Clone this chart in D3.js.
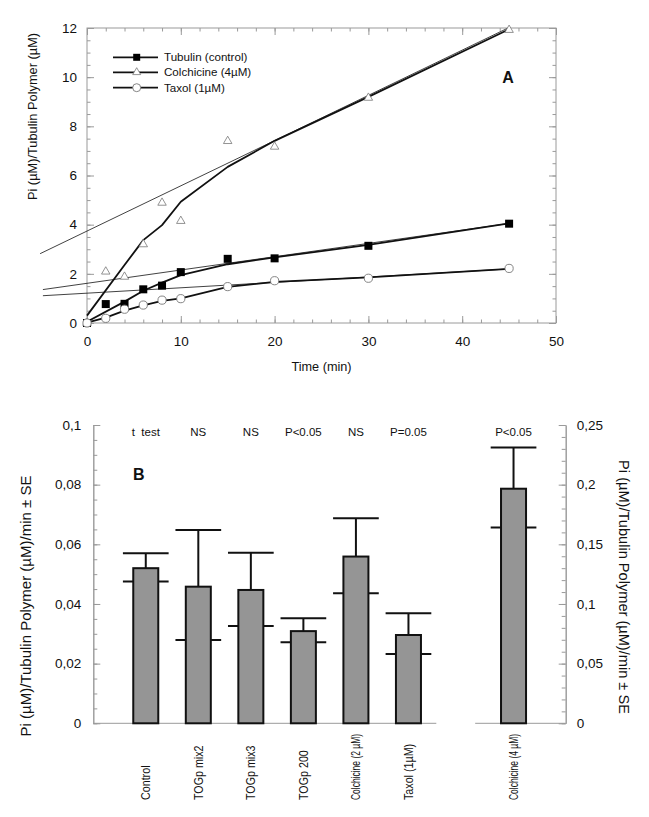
<!DOCTYPE html>
<html><head><meta charset="utf-8">
<script src="https://cdn.jsdelivr.net/npm/d3@7/dist/d3.min.js"></script>
<style>
body{margin:0;background:#fff}
svg{display:block}
text{font-family:"Liberation Sans",Arial,Helvetica,sans-serif;fill:#111}
</style>
</head><body><svg id="c" width="649" height="817"></svg>
<script>
// ---------- Panel A data ----------
const timePoints   = [0, 2, 4, 6, 8, 10, 15, 20, 30, 45];
const tubulinPi    = [0, 0.77, 0.78, 1.37, 1.52, 2.07, 2.61, 2.63, 3.14, 4.04];
const colchicinePi = [0, 2.09, 1.88, 3.20, 4.89, 4.15, 7.40, 7.17, 9.16, 11.92];
const taxolPi      = [0, 0.19, 0.56, 0.73, 0.93, 0.99, 1.48, 1.72, 1.82, 2.22];
// smoothed fit curves
const tubulinFitX    = [0, 4, 6, 8, 10, 15, 20, 30, 45];
const tubulinFitY    = [0.05, 0.87, 1.31, 1.64, 1.95, 2.39, 2.67, 3.18, 4.05];
const colchicineFitX = [0, 4, 6, 8, 10, 15, 20, 30, 45];
const colchicineFitY = [0.30, 2.36, 3.37, 3.98, 4.93, 6.35, 7.41, 9.20, 11.95];
const taxolFitX      = [0, 2, 4, 6, 8, 10, 15, 20, 30, 45];
const taxolFitY      = [0.02, 0.22, 0.50, 0.72, 0.90, 1.00, 1.47, 1.67, 1.86, 2.20];
// linear regression lines (end points)
const tubulinLinX    = [-4.7, 45];
const tubulinLinY    = [1.36, 4.05];
const colchicineLinX = [-5, 45];
const colchicineLinY = [2.82, 12.02];
const taxolLinX      = [-4.7, 45];
const taxolLinY      = [1.11, 2.20];
const legendLabels   = ["Tubulin (control)", "Colchicine (4\u00b5M)", "Taxol (1\u00b5M)"];
const xTicksA = [0, 10, 20, 30, 40, 50];
const yTicksA = [0, 2, 4, 6, 8, 10, 12];

// ---------- Panel B data ----------
const categories = ["Control", "TOGp mix2", "TOGp mix3", "TOGp 200", "Colchicine (2 \u00b5M)", "Taxol (1\u00b5M)", "Colchicine (4 \u00b5M)"];
const rates      = [0.0520, 0.0458, 0.0447, 0.0309, 0.0559, 0.0296, 0.1966];
const errUpper   = [0.0570, 0.0648, 0.0572, 0.0352, 0.0687, 0.0369, 0.2312];
const errLower   = [0.0475, 0.0279, 0.0326, 0.0272, 0.0436, 0.0232, 0.1641];
const tests      = ["t  test", "NS", "NS", "P<0.05", "NS", "P=0.05", "P<0.05"];
const axisSide   = ["left", "left", "left", "left", "left", "left", "right"];
const leftTicksB  = [0, 0.02, 0.04, 0.06, 0.08, 0.1];
const leftLabelsB = ["0", "0,02", "0,04", "0,06", "0,08", "0,1"];
const rightTicksB  = [0, 0.05, 0.1, 0.15, 0.2, 0.25];
const rightLabelsB = ["0", "0,05", "0,1", "0,15", "0,2", "0,25"];

const svg = d3.select("#c");
const FRAME = "#9a9a9a";

// ================= PANEL A =================
const xA = d3.scaleLinear().domain([0, 50]).range([87, 556]);
const yA = d3.scaleLinear().domain([0, 12]).range([323, 28]);
const gA = svg.append("g");

gA.append("rect").attr("x", xA(0)).attr("y", yA(12)).attr("width", xA(50) - xA(0)).attr("height", yA(0) - yA(12))
  .attr("fill", "none").attr("stroke", FRAME).attr("stroke-width", 1);

function styleAxis(g) {
  g.select(".domain").remove();
  g.selectAll(".tick line").attr("stroke", FRAME);
  g.selectAll("text").style("font-size", "13.5px").attr("fill", "#111");
}
// minor ticks
gA.append("g").attr("transform", `translate(0,${yA(0)})`).call(d3.axisBottom(xA).tickValues(d3.range(0, 51, 2)).tickSize(-3.5).tickFormat("")).call(styleAxis);
gA.append("g").attr("transform", `translate(0,${yA(12)})`).call(d3.axisTop(xA).tickValues(d3.range(0, 51, 2)).tickSize(-3.5).tickFormat("")).call(styleAxis);
gA.append("g").attr("transform", `translate(${xA(0)},0)`).call(d3.axisLeft(yA).tickValues(d3.range(0, 12.01, 0.5)).tickSize(-3.5).tickFormat("")).call(styleAxis);
gA.append("g").attr("transform", `translate(${xA(50)},0)`).call(d3.axisRight(yA).tickValues(d3.range(0, 12.01, 0.5)).tickSize(-3.5).tickFormat("")).call(styleAxis);
// major ticks + labels
gA.append("g").attr("transform", `translate(0,${yA(0)})`).call(d3.axisBottom(xA).tickValues(xTicksA).tickSize(-7).tickPadding(13.5).tickFormat(d3.format("d"))).call(styleAxis);
gA.append("g").attr("transform", `translate(0,${yA(12)})`).call(d3.axisTop(xA).tickValues(xTicksA).tickSize(-7).tickFormat("")).call(styleAxis);
gA.append("g").attr("transform", `translate(${xA(0)},0)`).call(d3.axisLeft(yA).tickValues(yTicksA).tickSize(-7).tickPadding(10).tickFormat(d3.format("d"))).call(styleAxis);
gA.append("g").attr("transform", `translate(${xA(50)},0)`).call(d3.axisRight(yA).tickValues(yTicksA).tickSize(-7).tickFormat("")).call(styleAxis);

gA.append("text").attr("x", (xA(0) + xA(50)) / 2).attr("y", 371).attr("text-anchor", "middle").style("font-size", "12.7px").text("Time (min)");
gA.append("text").attr("transform", `translate(37,${(33 + 200) / 2}) rotate(-90)`).attr("text-anchor", "middle").style("font-size", "12.8px").text("Pi (\u00b5M)/Tubulin Polymer (\u00b5M)");
gA.append("text").attr("x", 508).attr("y", 83).attr("text-anchor", "middle").style("font-size", "16px").style("font-weight", "bold").text("A");

const lineA = d3.line().x(d => xA(d[0])).y(d => yA(d[1]));
const zip = (a, b) => a.map((v, i) => [v, b[i]]);
// thin regression lines
[[tubulinLinX, tubulinLinY], [colchicineLinX, colchicineLinY], [taxolLinX, taxolLinY]].forEach(([xs, ys]) => {
  gA.append("path").attr("d", lineA(zip(xs, ys))).attr("fill", "none").attr("stroke", "#111").attr("stroke-width", 0.8);
});
// thick fit curves
[[tubulinFitX, tubulinFitY], [colchicineFitX, colchicineFitY], [taxolFitX, taxolFitY]].forEach(([xs, ys]) => {
  gA.append("path").attr("d", lineA(zip(xs, ys))).attr("fill", "none").attr("stroke", "#111").attr("stroke-width", 1.8).attr("stroke-linejoin", "round");
});

function drawMarker(g, type, cx, cy, s) {
  if (type === "square") {
    g.append("rect").attr("x", cx - s / 2).attr("y", cy - s / 2).attr("width", s).attr("height", s).attr("fill", "#000");
  } else if (type === "triangle") {
    g.append("path").attr("d", d3.symbol().type(d3.symbolTriangle).size(s * s * 0.43)()).attr("transform", `translate(${cx},${cy})`)
      .attr("fill", "#fff").attr("stroke", "#777").attr("stroke-width", 0.8);
  } else {
    g.append("circle").attr("cx", cx).attr("cy", cy).attr("r", s / 2).attr("fill", "#fff").attr("stroke", "#777").attr("stroke-width", 0.9);
  }
}
timePoints.forEach((t, i) => drawMarker(gA, "square", xA(t), yA(tubulinPi[i]), 8));
timePoints.forEach((t, i) => drawMarker(gA, "triangle", xA(t), yA(colchicinePi[i]), 8.5));
timePoints.forEach((t, i) => drawMarker(gA, "circle", xA(t), yA(taxolPi[i]), 8.2));

// legend
const legTypes = ["square", "triangle", "circle"];
const legY = [57.3, 72.3, 87.7];
legendLabels.forEach((lab, i) => {
  gA.append("line").attr("x1", 113).attr("x2", 158).attr("y1", legY[i]).attr("y2", legY[i]).attr("stroke", "#111").attr("stroke-width", 1.8);
  drawMarker(gA, legTypes[i], 136.7, legY[i], i === 0 ? 7 : 8);
  gA.append("text").attr("x", 164).attr("y", legY[i]).attr("dy", "0.36em").style("font-size", "11.6px").text(lab);
});

// ================= PANEL B =================
const gB = svg.append("g");
const yB  = d3.scaleLinear().domain([0, 0.1]).range([723.3, 425]);
const yB2 = d3.scaleLinear().domain([0, 0.25]).range([723.3, 425]);
const GAP = "__gap__";
const slots = [...categories.slice(0, 6), GAP, categories[6]];
const xB = d3.scaleBand().domain(slots).range([119.5, 539.8]).paddingInner(0.524).paddingOuter(0.262);
const bw = xB.bandwidth();
const step = xB.step();
const cx = c => xB(c) + bw / 2;
const yOf = i => axisSide[i] === "left" ? yB : yB2;

const leftAxisX = 93.3, rightAxisX = 565.7;
// baselines
gB.append("line").attr("x1", leftAxisX).attr("x2", cx(categories[5]) + step * 0.53).attr("y1", yB(0)).attr("y2", yB(0)).attr("stroke", FRAME).attr("stroke-width", 1);
gB.append("line").attr("x1", cx(categories[6]) - step * 0.73).attr("x2", rightAxisX).attr("y1", yB(0)).attr("y2", yB(0)).attr("stroke", FRAME).attr("stroke-width", 1);

function styleAxisB(g) {
  g.select(".domain").attr("stroke", FRAME);
  g.selectAll(".tick line").attr("stroke", FRAME);
  g.selectAll("text").style("font-size", "13.5px").attr("fill", "#111");
}
gB.append("g").attr("transform", `translate(${leftAxisX},0)`).call(d3.axisLeft(yB).tickValues(d3.range(0, 0.1001, 0.005)).tickSize(-4).tickSizeOuter(0).tickFormat("")).call(styleAxisB);
gB.append("g").attr("transform", `translate(${leftAxisX},0)`).call(d3.axisLeft(yB).tickValues(leftTicksB).tickSize(-7).tickSizeOuter(0).tickPadding(12).tickFormat((d, i) => leftLabelsB[i])).call(styleAxisB);
gB.append("g").attr("transform", `translate(${rightAxisX},0)`).call(d3.axisRight(yB2).tickValues(d3.range(0, 0.2501, 0.01)).tickSize(-4).tickSizeOuter(0).tickFormat("")).call(styleAxisB);
gB.append("g").attr("transform", `translate(${rightAxisX},0)`).call(d3.axisRight(yB2).tickValues(rightTicksB).tickSize(-7).tickSizeOuter(0).tickPadding(11).tickFormat((d, i) => rightLabelsB[i])).call(styleAxisB);

// error bars (behind the bars)
categories.forEach((c, i) => {
  const y = yOf(i), x = cx(c), half = step * 0.435;
  gB.append("line").attr("x1", x).attr("x2", x).attr("y1", y(errLower[i])).attr("y2", y(errUpper[i])).attr("stroke", "#111").attr("stroke-width", 2);
  gB.append("line").attr("x1", x - half).attr("x2", x + half).attr("y1", y(errUpper[i])).attr("y2", y(errUpper[i])).attr("stroke", "#111").attr("stroke-width", 2);
  gB.append("line").attr("x1", x - half).attr("x2", x + half).attr("y1", y(errLower[i])).attr("y2", y(errLower[i])).attr("stroke", "#111").attr("stroke-width", 2);
});
// bars
categories.forEach((c, i) => {
  const y = yOf(i);
  gB.append("rect").attr("x", xB(c)).attr("y", y(rates[i])).attr("width", bw).attr("height", y(0) - y(rates[i]))
    .attr("fill", "#959595").attr("stroke", "#111").attr("stroke-width", 2);
});
// significance labels
categories.forEach((c, i) => {
  gB.append("text").attr("x", cx(c)).attr("y", 436).attr("text-anchor", "middle").style("font-size", "11.5px").style("white-space", "pre").text(tests[i]);
});
// category labels: condensed, squeezed to fit the space under the baseline
const labelBottom = 800, labelMaxLen = 66;
categories.forEach((c, i) => {
  const t = gB.append("text").attr("transform", `translate(${cx(c) + 4.5},${labelBottom}) rotate(-90)`).attr("text-anchor", "start")
    .style("font-size", "12.6px").text(c);
  const len = t.node().getComputedTextLength();
  t.attr("textLength", Math.min(len * 0.85, labelMaxLen)).attr("lengthAdjust", "spacingAndGlyphs");
});

gB.append("text").attr("x", 133).attr("y", 480).style("font-size", "16px").style("font-weight", "bold").text("B");
gB.append("text").attr("transform", `translate(31,606) rotate(-90)`).attr("text-anchor", "middle").style("font-size", "15px").text("Pi (\u00b5M)/Tubulin Polymer (\u00b5M)/min \u00b1 SE");
gB.append("text").attr("transform", `translate(619,587) rotate(90)`).attr("text-anchor", "middle").style("font-size", "14.6px").text("Pi (\u00b5M)/Tubulin Polymer (\u00b5M)/min \u00b1 SE");
</script></body></html>
